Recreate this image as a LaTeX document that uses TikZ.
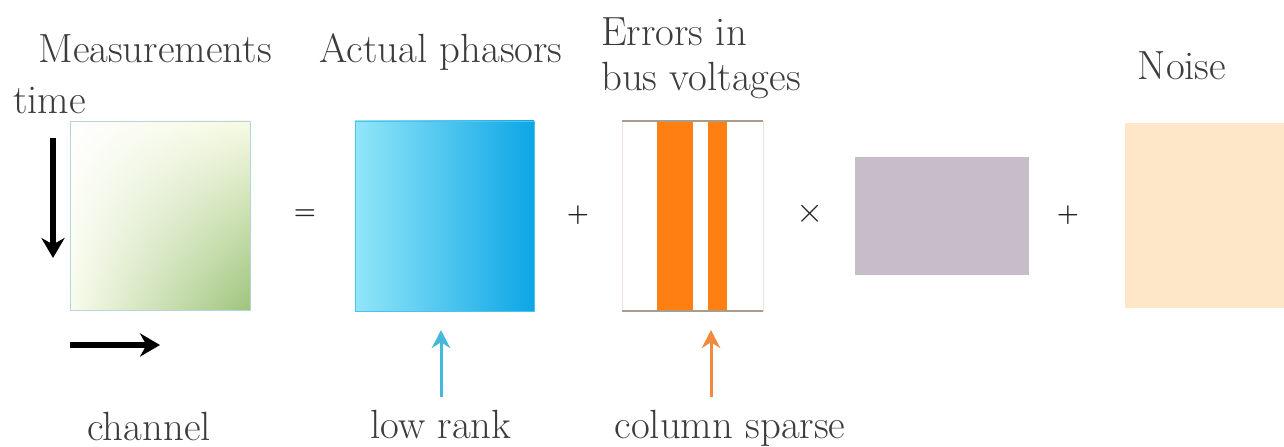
\documentclass[tikz,border=0pt]{standalone}
\usepackage{xcolor}
\usepackage{tikz}
\usetikzlibrary{arrows.meta, positioning, shadings}
\definecolor{dgInk}{HTML}{3C3C3C}
\definecolor{dgMeasBorder}{HTML}{B2D6DA}
\definecolor{dgMeasGreen}{HTML}{9EC47C}
\definecolor{dgMeasPale}{HTML}{F6FAE3}
\definecolor{dgCyanLight}{HTML}{92E6F8}
\definecolor{dgCyanDark}{HTML}{0CA6E6}
\definecolor{dgCyanBorder}{HTML}{4EC2E8}
\definecolor{dgErrLine}{HTML}{A89C8A}
\definecolor{dgErrSide}{HTML}{F6E4DC}
\definecolor{dgOrange}{HTML}{FF7F12}
\definecolor{dgMauve}{HTML}{C7BDC9}
\definecolor{dgNoise}{HTML}{FEE6C9}
\definecolor{dgCyanArrow}{HTML}{45B8DC}
\definecolor{dgOrangeArrow}{HTML}{F08A3C}

\begin{document}
\begin{tikzpicture}[
  x=0.025cm, y=-0.025cm,
  lbl/.style={font=\fontsize{29}{34}\selectfont, text=dgInk, inner sep=0pt},
  oper/.style={font=\fontsize{18}{22}\selectfont\bfseries, text=black!85, inner sep=0pt},
  matrix box/.style={inner sep=0pt, outer sep=0pt, line width=0.6pt},
  stripe/.style={fill=dgOrange, inner sep=0pt, outer sep=0pt, minimum height=4.75cm},
  axisarrow/.style={-{Stealth[length=5mm,width=5.8mm]}, line width=1.5mm, draw=black},
  markarrow/.style={-{Stealth[length=4.5mm,width=4.6mm]}, line width=0.75mm}
]
\useasboundingbox (0,0) rectangle (1284,447);

% matrices
\node[matrix box, draw=dgMeasBorder, minimum width=4.5cm, minimum height=4.725cm,
  upper left=white, upper right=dgMeasPale, lower left=dgMeasPale!70!white,
  lower right=dgMeasGreen] (meas) at (160,215.5) {};
\node[matrix box, draw=dgCyanBorder, minimum width=4.475cm, minimum height=4.75cm,
  left color=dgCyanLight, right color=dgCyanDark] (phasors) at (444.5,216) {};
\node[matrix box, draw=dgErrSide, minimum width=3.525cm, minimum height=4.75cm] (err) at (692.5,216) {};
\node[stripe, minimum width=0.9cm] (s1) at (675,216) {};
\node[stripe, minimum width=0.475cm] (s2) at (717.5,216) {};
\draw[dgErrLine, line width=1.2pt] (err.north west) -- (err.north east);
\draw[dgErrLine, line width=1.2pt] (err.south west) -- (err.south east);
\node[matrix box, fill=dgMauve, minimum width=4.35cm, minimum height=2.95cm] (gain) at (942,216) {};
\node[matrix box, fill=dgNoise, minimum width=3.975cm, minimum height=4.625cm] (noise) at (1204.5,215.5) {};

% operators
\node[oper] (eq) at (305,215) {=};
\node[oper] (plusA) at (578,215) {+};
\node[oper, font=\fontsize{26}{30}\selectfont] (times) at (810,214) {$\times$};
\node[oper] (plusB) at (1068,215) {+};

% labels
\node[lbl, anchor=base] (measlbl) at (155,62) {Measurements};
\node[lbl, anchor=base] (phaslbl) at (441,62) {Actual phasors};
\node[lbl, anchor=base west] (errlbl1) at (601,45) {Errors in};
\node[lbl, anchor=base west] (errlbl2) at (601,90) {bus voltages};
\node[lbl, anchor=base] (noiselbl) at (1182,79) {Noise};
\node[lbl, anchor=base west] (timelbl) at (13,113) {time};
\node[lbl, anchor=base] (chanlbl) at (149,440) {channel};
\node[lbl, anchor=base] (lowrank) at (441,438) {low rank};
\node[lbl, anchor=base] (colsparse) at (730,438) {column sparse};

% axes
\coordinate (t0) at (53,138);
\coordinate (t1) at (53,258);
\coordinate (c0) at (70,345);
\coordinate (c1) at (160,345);
\draw[axisarrow] (t0) -- (t1);
\draw[axisarrow] (c0) -- (c1);

% markers
\draw[markarrow, draw=dgCyanArrow, shorten <=0.3cm, shorten >=0.475cm] (lowrank.north) -- (lowrank.north |- phasors.south);
\coordinate (colmark) at (711,397);
\draw[markarrow, draw=dgOrangeArrow, shorten >=0.475cm] (colmark) -- (colmark |- err.south);
\end{tikzpicture}
\end{document}
